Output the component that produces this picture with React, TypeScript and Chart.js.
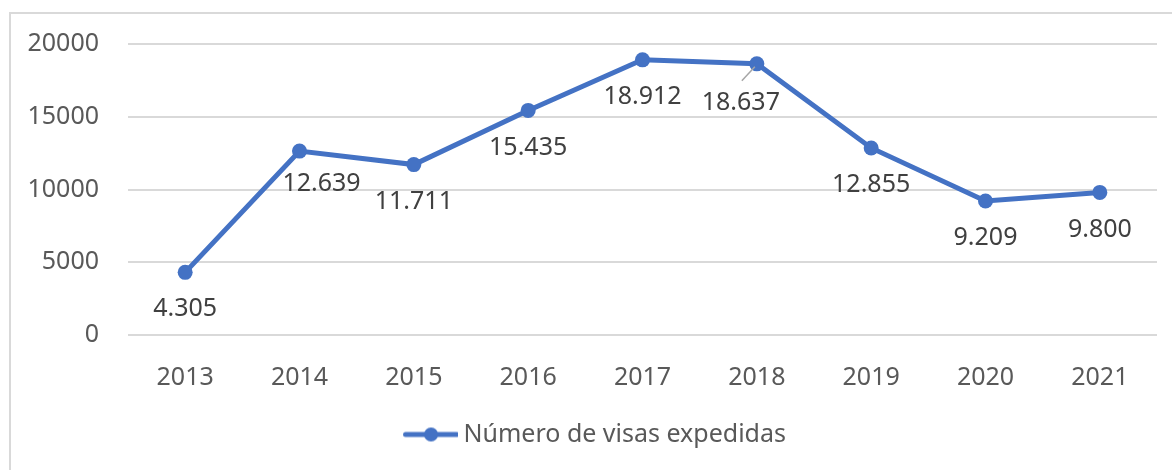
import React, { useEffect, useRef } from "react";
import { Chart, registerables } from "chart.js";

Chart.register(...registerables);

const years = ["2013", "2014", "2015", "2016", "2017", "2018", "2019", "2020", "2021"];
const visas = [4305, 12639, 11711, 15435, 18912, 18637, 12855, 9209, 9800];
const yTickValues = [0, 5000, 10000, 15000, 20000];
const seriesName = "Número de visas expedidas";

const FONT = "'Noto Sans', sans-serif";
const BLUE = "#4472C4";

const fmt = (v: number) => v.toString().replace(/\B(?=(\d{3})+(?!\d))/g, ".");

const dataLabelPlugin = {
  id: "dataLabels",
  afterDatasetsDraw(chart: any) {
    const ctx = chart.ctx;
    const meta = chart.getDatasetMeta(0);
    const data = chart.data.datasets[0].data as number[];
    ctx.save();
    ctx.font = `25px ${FONT}`;
    ctx.fillStyle = "#404040";
    ctx.textAlign = "center";
    ctx.textBaseline = "middle";
    meta.data.forEach((pt: any, i: number) => {
      let dx = 0;
      let dy = 37;
      if (i === 1) {
        dx = 22;
        dy = 33;
      }
      if (i === 5) {
        dx = -16;
        dy = 39;
        ctx.save();
        ctx.strokeStyle = "#a6a6a6";
        ctx.lineWidth = 1.5;
        ctx.beginPath();
        ctx.moveTo(pt.x - 15, pt.y + 17);
        ctx.lineTo(pt.x - 2, pt.y + 3);
        ctx.stroke();
        ctx.restore();
      }
      ctx.fillText(fmt(data[i]), pt.x + dx, pt.y + dy);
    });
    ctx.restore();
  },
};

export default function App() {
  const ref = useRef<HTMLCanvasElement>(null);

  useEffect(() => {
    if (!ref.current) return;
    const legendImg = document.createElement("canvas");
    legendImg.width = 94;
    legendImg.height = 16;
    const lc = legendImg.getContext("2d")!;
    lc.strokeStyle = BLUE;
    lc.lineWidth = 5;
    lc.lineCap = "round";
    lc.beginPath();
    lc.moveTo(41.5, 8);
    lc.lineTo(92.5, 8);
    lc.stroke();
    lc.fillStyle = BLUE;
    lc.beginPath();
    lc.arc(67, 8, 7, 0, Math.PI * 2);
    lc.fill();

    const chart = new Chart(ref.current, {
      type: "line",
      data: {
        labels: years,
        datasets: [
          {
            label: seriesName,
            data: visas,
            borderColor: BLUE,
            backgroundColor: BLUE,
            borderWidth: 5,
            pointRadius: 7.5,
            pointBackgroundColor: BLUE,
            pointBorderWidth: 0,
            tension: 0,
          },
        ],
      },
      options: {
        animation: false,
        responsive: false,
        devicePixelRatio: 1,
        layout: { padding: { top: 44, right: 15, bottom: 13, left: 0 } },
        plugins: {
          tooltip: { enabled: false },
          legend: {
            position: "bottom",
            labels: {
              usePointStyle: true,
              pointStyleWidth: 80,
              padding: 10,
              color: "#595959",
              font: { family: FONT, size: 25 },
              generateLabels: () => [
                {
                  text: seriesName,
                  pointStyle: legendImg as any,
                  fillStyle: "transparent",
                  strokeStyle: "transparent",
                  lineWidth: 0,
                  hidden: false,
                  datasetIndex: 0,
                  fontColor: "#595959",
                } as any,
              ],
            },
          },
        },
        scales: {
          x: {
            offset: true,
            grid: { display: false },
            border: { display: false },
            ticks: {
              color: "#595959",
              font: { family: FONT, size: 25 },
              padding: 20,
              maxRotation: 0,
            },
            afterFit: (s: any) => {
              s.height = 77;
            },
          },
          y: {
            min: 0,
            max: 20000,
            afterBuildTicks: (s: any) => {
              s.ticks = yTickValues.map((v) => ({ value: v }));
            },
            grid: { color: "#d9d9d9", lineWidth: 2, drawTicks: false },
            border: { display: false },
            ticks: {
              color: "#595959",
              font: { family: FONT, size: 25 },
              padding: 29,
              callback: (v: any) => String(v),
            },
            afterFit: (s: any) => {
              s.width = 128;
            },
          },
        },
      },
      plugins: [dataLabelPlugin],
    });
    return () => chart.destroy();
  }, []);

  return (
    <>
      <div
        style={{
          position: "fixed",
          left: 9,
          top: 12,
          width: 1200,
          height: 500,
          border: "2px solid #d9d9d9",
          boxSizing: "border-box",
        }}
      />
      <div style={{ position: "fixed", left: 0, top: 0, width: 1172, height: 470 }}>
        <canvas ref={ref} width={1172} height={470} style={{ width: 1172, height: 470 }} />
      </div>
    </>
  );
}
